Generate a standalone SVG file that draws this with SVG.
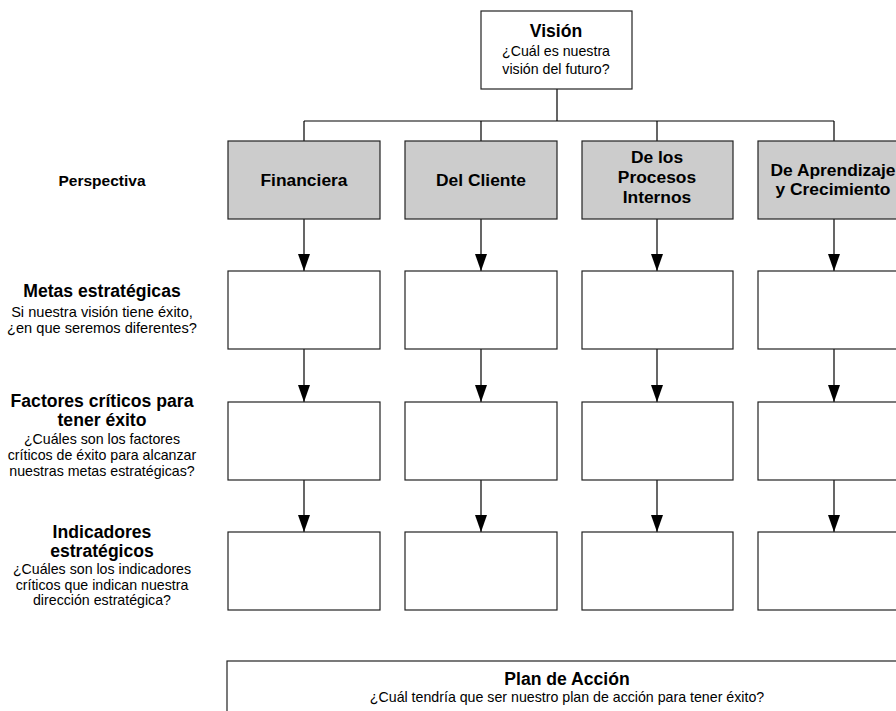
<svg xmlns="http://www.w3.org/2000/svg" width="896" height="711" viewBox="0 0 896 711">
  <style>
    .box { fill: #ffffff; stroke: #222222; stroke-width: 1.2; }
    .persp { fill: #cccccc; stroke: #222222; stroke-width: 1.2; }
    .wire { fill: none; stroke: #000000; stroke-width: 1.2; }
    text { font-family: "Liberation Sans", Arial, sans-serif; fill: #000000; text-anchor: middle; }
    .t { font-size: 17.6px; font-weight: bold; }
    .p { font-size: 17.4px; font-weight: bold; }
    .s { font-size: 14.2px; }
    .lbl { font-size: 15.5px; font-weight: bold; }
  </style>
  <defs>
    <marker id="tip" markerWidth="17" markerHeight="12" refX="17" refY="6" orient="auto" markerUnits="userSpaceOnUse" viewBox="0 0 17 12">
      <path d="M0,0 L17,6 L0,12 Z" fill="#000000"/>
    </marker>
  </defs>

  <rect width="896" height="711" fill="#ffffff"/>

  <!-- connectors -->
  <g id="connectors">
    <path class="wire" d="M557,89 V121 M304,121 H834 M304,121 V141 M481,121 V141 M657,121 V141 M834,121 V141"/>
    <g marker-end="url(#tip)">
      <line class="wire" x1="304" y1="219" x2="304" y2="271"/>
      <line class="wire" x1="481" y1="219" x2="481" y2="271"/>
      <line class="wire" x1="657" y1="219" x2="657" y2="271"/>
      <line class="wire" x1="834" y1="219" x2="834" y2="271"/>
      <line class="wire" x1="304" y1="349" x2="304" y2="402"/>
      <line class="wire" x1="481" y1="349" x2="481" y2="402"/>
      <line class="wire" x1="657" y1="349" x2="657" y2="402"/>
      <line class="wire" x1="834" y1="349" x2="834" y2="402"/>
      <line class="wire" x1="304" y1="480" x2="304" y2="532"/>
      <line class="wire" x1="481" y1="480" x2="481" y2="532"/>
      <line class="wire" x1="657" y1="480" x2="657" y2="532"/>
      <line class="wire" x1="834" y1="480" x2="834" y2="532"/>
    </g>
  </g>

  <!-- top vision node -->
  <g id="vision">
    <rect class="box" x="481" y="11" width="151" height="78"/>
    <text class="t" x="556" y="37">Visión</text>
    <text class="s" x="556" y="56">¿Cuál es nuestra</text>
    <text class="s" x="556" y="74">visión del futuro?</text>
  </g>

  <!-- row labels -->
  <g id="row-labels">
    <text class="lbl" x="102" y="186">Perspectiva</text>
    <text class="t" x="102" y="297">Metas estratégicas</text>
    <text class="s" x="102" y="317" style="font-size:14.6px">Si nuestra visión tiene éxito,</text>
    <text class="s" x="102" y="333" style="font-size:14.6px">¿en que seremos diferentes?</text>
    <text class="t" x="102" y="407">Factores críticos para</text>
    <text class="t" x="102" y="426">tener éxito</text>
    <text class="s" x="102" y="444">¿Cuáles son los factores</text>
    <text class="s" x="102" y="460">críticos de éxito para alcanzar</text>
    <text class="s" x="102" y="476">nuestras metas estratégicas?</text>
    <text class="t" x="102" y="538">Indicadores</text>
    <text class="t" x="102" y="557">estratégicos</text>
    <text class="s" x="102" y="574">¿Cuáles son los indicadores</text>
    <text class="s" x="102" y="590">críticos que indican nuestra</text>
    <text class="s" x="102" y="605">dirección estratégica?</text>
  </g>

  <!-- perspective nodes -->
  <g id="financiera">
    <rect class="persp" x="228" y="141" width="152" height="78"/>
    <text class="p" x="304" y="186">Financiera</text>
  </g>
  <g id="cliente">
    <rect class="persp" x="405" y="141" width="152" height="78"/>
    <text class="p" x="481" y="186">Del Cliente</text>
  </g>
  <g id="procesos">
    <rect class="persp" x="582" y="141" width="151" height="78"/>
    <text class="p" x="657" y="163">De los</text>
    <text class="p" x="657" y="183">Procesos</text>
    <text class="p" x="657" y="203">Internos</text>
  </g>
  <g id="aprendizaje">
    <rect class="persp" x="758" y="141" width="152" height="78"/>
    <text class="p" x="833" y="176">De Aprendizaje</text>
    <text class="p" x="833" y="195">y Crecimiento</text>
  </g>

  <!-- goal nodes -->
  <g id="metas-financiera"><rect class="box" x="228" y="271" width="152" height="78"/></g>
  <g id="metas-cliente"><rect class="box" x="405" y="271" width="152" height="78"/></g>
  <g id="metas-procesos"><rect class="box" x="582" y="271" width="151" height="78"/></g>
  <g id="metas-aprendizaje"><rect class="box" x="758" y="271" width="152" height="78"/></g>

  <!-- critical factor nodes -->
  <g id="factores-financiera"><rect class="box" x="228" y="402" width="152" height="78"/></g>
  <g id="factores-cliente"><rect class="box" x="405" y="402" width="152" height="78"/></g>
  <g id="factores-procesos"><rect class="box" x="582" y="402" width="151" height="78"/></g>
  <g id="factores-aprendizaje"><rect class="box" x="758" y="402" width="152" height="78"/></g>

  <!-- indicator nodes -->
  <g id="indicadores-financiera"><rect class="box" x="228" y="532" width="152" height="78"/></g>
  <g id="indicadores-cliente"><rect class="box" x="405" y="532" width="152" height="78"/></g>
  <g id="indicadores-procesos"><rect class="box" x="582" y="532" width="151" height="78"/></g>
  <g id="indicadores-aprendizaje"><rect class="box" x="758" y="532" width="152" height="78"/></g>

  <!-- action plan -->
  <g id="plan">
    <rect class="box" x="227" y="661" width="680" height="70"/>
    <text class="t" x="567" y="685">Plan de Acción</text>
    <text class="s" x="567" y="702">¿Cuál tendría que ser nuestro plan de acción para tener éxito?</text>
  </g>
</svg>
